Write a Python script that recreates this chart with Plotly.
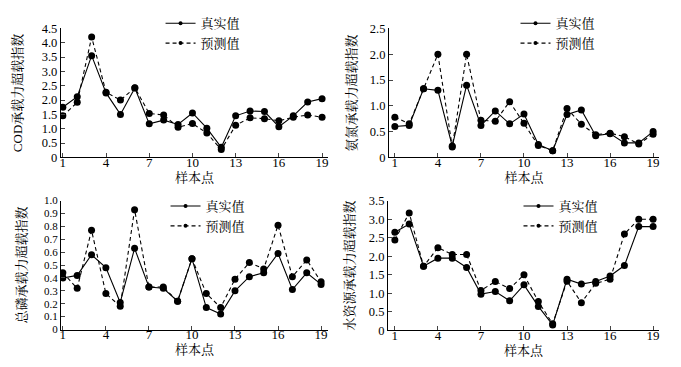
import plotly.graph_objects as go

samples = list(range(1, 20))

cod_true = [1.75, 2.12, 3.55, 2.25, 1.50, 2.42, 1.17, 1.30, 1.15, 1.55, 1.02, 0.35, 1.45, 1.62, 1.60, 1.07, 1.45, 1.93, 2.05]
cod_pred = [1.45, 1.92, 4.20, 2.27, 2.00, 2.43, 1.53, 1.48, 1.05, 1.18, 0.85, 0.27, 1.12, 1.38, 1.35, 1.28, 1.40, 1.48, 1.40]

nh_true = [0.60, 0.62, 1.33, 1.30, 0.22, 1.40, 0.62, 0.90, 0.65, 0.84, 0.25, 0.13, 0.83, 0.92, 0.42, 0.46, 0.28, 0.28, 0.50]
nh_pred = [0.78, 0.65, 1.33, 2.00, 0.20, 2.00, 0.72, 0.70, 1.08, 0.66, 0.23, 0.13, 0.95, 0.64, 0.44, 0.47, 0.40, 0.26, 0.45]

tp_true = [0.40, 0.42, 0.58, 0.48, 0.21, 0.63, 0.33, 0.32, 0.22, 0.55, 0.17, 0.12, 0.30, 0.41, 0.44, 0.59, 0.31, 0.44, 0.35]
tp_pred = [0.44, 0.32, 0.77, 0.28, 0.18, 0.93, 0.33, 0.33, 0.22, 0.55, 0.28, 0.17, 0.39, 0.52, 0.47, 0.81, 0.41, 0.54, 0.37]

wr_true = [2.65, 2.87, 1.73, 1.95, 1.95, 1.70, 0.98, 1.05, 0.80, 1.23, 0.65, 0.15, 1.38, 1.25, 1.32, 1.47, 1.75, 2.80, 2.80]
wr_pred = [2.44, 3.17, 1.73, 2.23, 2.05, 2.05, 1.08, 1.32, 1.13, 1.50, 0.78, 0.18, 1.33, 0.75, 1.27, 1.38, 2.60, 3.00, 3.00]

y_titles = ["COD承载力超载指数", "氨氮承载力超载指数", "总磷承载力超载指数", "水资源承载力超载指数"]
y_ranges = [[0, 4.5], [0, 2.5], [0, 1.0], [0, 3.5]]
y_dticks = [0.5, 0.5, 0.1, 0.5]
x_ticks = [1, 4, 7, 10, 13, 16, 19]
x_title = "样本点"
name_true = "真实值"
name_pred = "预测值"

series = [(cod_true, cod_pred), (nh_true, nh_pred), (tp_true, tp_pred), (wr_true, wr_pred)]

W, H = 681, 367
FONT = "Liberation Serif, 'Times New Roman', 'Noto Serif CJK SC', 'Noto Sans CJK SC', serif"

# pixel boxes: (left, right, top, bottom)
boxes = [(52, 320, 14, 148), (381, 652, 14, 148), (52, 320, 193, 327), (380, 652, 193, 328)]
xpix = [(54, 314), (387, 646), (54, 313), (387, 646)]
legend_pos = [(152, -7), (508, -7), (157, 183), (511, 183)]
ytitle_standoff = [16, 10, 14, 11]
ytick_size = [12.5, 12.5, 11, 12.5]

fig = go.Figure()
layout = dict(width=W, height=H, margin=dict(l=0, r=0, t=0, b=0),
              paper_bgcolor="white", plot_bgcolor="white",
              font=dict(family=FONT, size=12, color="black"), showlegend=True)

for i, (yt, yp) in enumerate(series):
    k = "" if i == 0 else str(i + 1)
    lg = "legend" if i == 0 else "legend" + str(i + 1)
    fig.add_trace(go.Scatter(x=samples, y=yt, mode="lines+markers", name=name_true,
                             line=dict(color="black", width=1.1),
                             marker=dict(color="black", size=7), showlegend=False,
                             xaxis="x" + k, yaxis="y" + k))
    fig.add_trace(go.Scatter(x=samples, y=yp, mode="lines+markers", name=name_pred,
                             line=dict(color="black", width=1.1, dash="4px,3px"),
                             marker=dict(color="black", size=7), showlegend=False,
                             xaxis="x" + k, yaxis="y" + k))
    # legend entries with small markers (as in the reference legend)
    fig.add_trace(go.Scatter(x=[None], y=[None], mode="lines+markers", name=name_true,
                             line=dict(color="black", width=1.1),
                             marker=dict(color="black", size=4),
                             xaxis="x" + k, yaxis="y" + k, legend=lg))
    fig.add_trace(go.Scatter(x=[None], y=[None], mode="lines+markers", name=name_pred,
                             line=dict(color="black", width=1.1, dash="4px,3px"),
                             marker=dict(color="black", size=4),
                             xaxis="x" + k, yaxis="y" + k, legend=lg))
    l, r, t, b = boxes[i]
    p1, p19 = xpix[i]
    ppu = (p19 - p1) / 18.0
    xr = [1 - (p1 - l) / ppu, 19 + (r - p19) / ppu]
    layout["xaxis" + k] = dict(domain=[l / W, r / W], range=xr, anchor="y" + k,
                               tickvals=x_ticks, ticks="inside", ticklen=4, tickwidth=1,
                               showline=True, linecolor="black", linewidth=1,
                               showgrid=False, zeroline=False, ticklabelstandoff=-7,
                               title=dict(text=x_title, standoff=1, font=dict(size=13)),
                               tickfont=dict(size=13))
    rng = y_ranges[i]
    d = y_dticks[i]
    n = int(round((rng[1] - rng[0]) / d))
    vals = [round(rng[0] + j * d, 2) for j in range(n + 1)]
    txt = ["0" if v == 0 else f"{v:.1f}" for v in vals]
    layout["yaxis" + k] = dict(domain=[1 - b / H, 1 - t / H], range=rng, anchor="x" + k,
                               tickvals=vals, ticktext=txt, ticks="inside", ticklen=4, tickwidth=1,
                               showline=True, linecolor="black", linewidth=1,
                               showgrid=False, zeroline=False,
                               title=dict(text=y_titles[i], standoff=ytitle_standoff[i], font=dict(size=13)),
                               tickfont=dict(size=ytick_size[i]))
    lx, ly = legend_pos[i]
    layout[lg] = dict(x=lx / W, y=1 - ly / H, xanchor="left", yanchor="top",
                      bgcolor="rgba(0,0,0,0)", font=dict(size=13), tracegroupgap=0,
                      itemwidth=30)

fig.update_layout(**layout)
fig.write_html("out.html")
